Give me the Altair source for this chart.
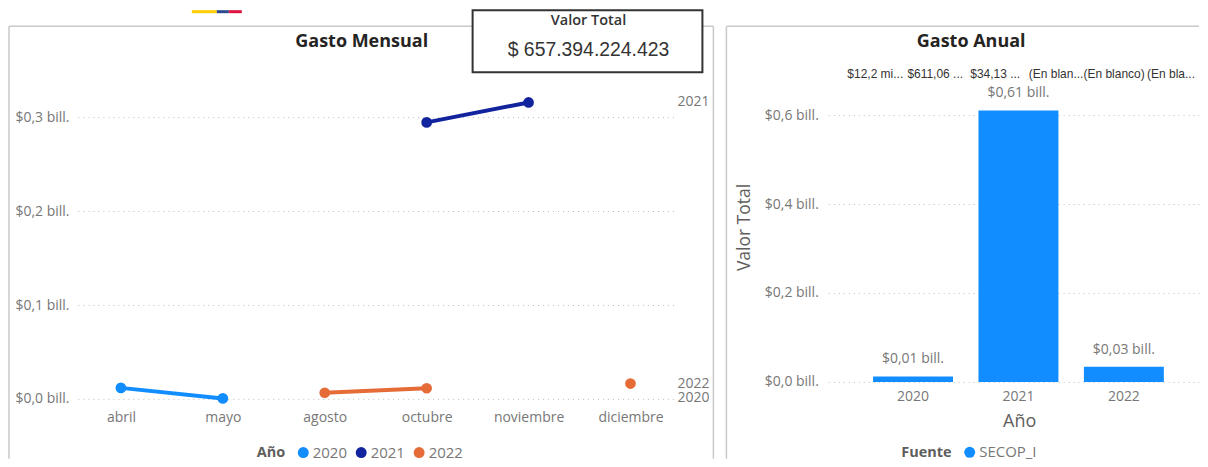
import altair as alt
import pandas as pd

FONT = "Open Sans"
GREY = "#777777"
BORDER = "#c9c9c9"

# ---- data ----
months = ["abril", "mayo", "agosto", "octubre", "noviembre", "diciembre"]
years = ["2020", "2021", "2022"]
colors = ["#118DFF", "#12239E", "#E66C37"]

line_month = ["abril", "mayo", "octubre", "noviembre", "agosto", "octubre", "diciembre"]
line_year = ["2020", "2020", "2021", "2021", "2022", "2022", "2022"]
line_seg = ["a", "a", "b", "b", "c", "c", "d"]
line_value = [0.0117, 0.0005, 0.2947, 0.3160, 0.0065, 0.0113, 0.0163]

end_year = ["2020", "2021", "2022"]
end_value = [0.0005, 0.3160, 0.0163]

bar_year = ["2020", "2021", "2022"]
bar_value = [0.0122, 0.6106, 0.0341]
bar_label = ["$0,01 bill.", "$0,61 bill.", "$0,03 bill."]
bar_source = ["SECOP_I", "SECOP_I", "SECOP_I"]

strip_labels = ["$12,2 mi...", "$611,06 ...", "$34,13 ...", "(En blan...", "(En blanco)", "(En bla..."]

card_title = "Valor Total"
card_value = "$ 657.394.224.423"

LABEL_EXPR = "'$' + replace(format(datum.value, '.1f'), '.', ',') + ' bill.'"
one = pd.DataFrame({"k": [0]})


def rule(x, x2, y, y2=None, color=BORDER, width=1.5):
    enc = dict(x=alt.value(x), x2=alt.value(x2), y=alt.value(y))
    if y2 is not None:
        enc["y2"] = alt.value(y2)
    return alt.Chart(one).mark_rule(color=color, strokeWidth=width).encode(**enc)


def box(x, x2, y, y2, fill, stroke=None, width=0):
    kw = dict(fill=fill)
    if stroke:
        kw.update(stroke=stroke, strokeWidth=width)
    return alt.Chart(one).mark_rect(**kw).encode(
        x=alt.value(x), x2=alt.value(x2), y=alt.value(y), y2=alt.value(y2))


def label(text, x, y, size, color="#252423", weight="normal", font=FONT):
    return alt.Chart(one).mark_text(
        fontSize=size, color=color, fontWeight=weight, font=font, align="center", baseline="middle"
    ).encode(x=alt.value(x), y=alt.value(y), text=alt.value(text))


def legend(title, x, y):
    return alt.Legend(orient="none", legendX=x, legendY=y, direction="horizontal",
                      title=title, titleOrient="left", titleFontSize=14.5, titleFont=FONT,
                      titleFontWeight="bold", titleColor="#605E5C", titlePadding=10, labelFontSize=15,
                      labelFont=FONT, labelColor=GREY, symbolType="circle", symbolSize=120,
                      symbolStrokeWidth=0, symbolOpacity=1, columnPadding=6, labelOffset=2)


# ---- left panel ----
df_line = pd.DataFrame({"mes": line_month, "anio": line_year, "seg": line_seg, "valor": line_value})
df_end = pd.DataFrame({"anio": end_year, "valor": end_value})

x_month = alt.X("mes:N", sort=months, title=None,
                scale=alt.Scale(type="point", domain=months, padding=0.4216),
                axis=alt.Axis(domain=False, ticks=False, grid=False, labelAngle=0, labelPadding=12,
                              labelFontSize=14, labelColor=GREY, labelFont=FONT))
y_scale = alt.Scale(domain=[0, 0.36], nice=False, zero=False)
y_month = alt.Y("valor:Q", title=None, scale=y_scale,
                axis=alt.Axis(values=[0, 0.1, 0.2, 0.3], domain=False, ticks=False, labelPadding=9,
                              labelExpr=LABEL_EXPR, labelFontSize=14, labelColor=GREY, labelFont=FONT,
                              gridDash=[1, 4], gridColor="#bdbdbd", gridOpacity=1))
color_year = alt.Color("anio:N", scale=alt.Scale(domain=years, range=colors),
                       legend=legend("Año", 179, 384))

lines = alt.Chart(df_line).mark_line(strokeWidth=4).encode(
    x=x_month, y=y_month, detail="seg:N", color=color_year)
points = alt.Chart(df_line).mark_circle(size=115, opacity=1).encode(
    x=x_month, y=y_month, color=color_year)
ends = alt.Chart(df_end).mark_text(fontSize=14, color=GREY, font=FONT, align="left", baseline="middle").encode(
    x=alt.value(600), y=alt.Y("valor:Q", scale=y_scale), text="anio:N")

left = alt.layer(
    lines, points, ends,
    rule(-69, 636, -35),
    rule(-69, -69, -35, 398),
    rule(636, 636, -35, 398),
    label("Gasto Mensual", 284, -19, 18, weight="bold"),
    box(114, 139, -51, -48, "#FFCD00"),
    box(139, 151, -51, -48, "#2B4A8F"),
    box(151, 164, -51, -48, "#E0123F"),
    box(395, 625, -51, 11, "white", "#333333", 2),
    label(card_title, 511, -40, 14.5, color="#333333", weight=600),
    label(card_value, 511, -11, 19.4, color="#333333", font="Liberation Sans"),
).properties(width=596, height=338)

# ---- right panel ----
df_bar = pd.DataFrame({"anio": bar_year, "valor": bar_value, "txt": bar_label, "fuente": bar_source})

x_year = alt.X("anio:N", title="Año",
               scale=alt.Scale(type="band", domain=bar_year, paddingInner=0.2417, paddingOuter=0.379, align=0.56),
               axis=alt.Axis(domain=False, ticks=False, grid=False, labelAngle=0, labelPadding=8,
                             labelFontSize=14, labelColor=GREY, labelFont=FONT, titleFont=FONT,
                             titleFontSize=18, titleFontWeight="normal", titleColor="#605E5C",
                             titlePadding=9, titleX=191))
y_year = alt.Y("valor:Q", title="Valor Total",
               scale=alt.Scale(domain=[0, 0.72135], nice=False, zero=True),
               axis=alt.Axis(values=[0, 0.2, 0.4, 0.6], domain=False, ticks=False, labelPadding=10,
                             labelExpr=LABEL_EXPR, labelFontSize=14, labelColor=GREY, labelFont=FONT,
                             gridDash=[1, 4], gridColor="#bdbdbd", gridOpacity=1, titleFont=FONT,
                             titleFontSize=17.5, titleFontWeight="normal", titleColor="#605E5C",
                             titlePadding=11, titleY=166))

bars = alt.Chart(df_bar).mark_bar().encode(
    x=x_year, y=y_year,
    color=alt.Color("fuente:N", scale=alt.Scale(range=["#118DFF"]), legend=legend("Fuente", 73, 384)))
bar_text = alt.Chart(df_bar).mark_text(dy=-17, fontSize=14, color=GREY, font=FONT, baseline="middle").encode(
    x=x_year, y=y_year, text="txt:N")

strip_x = [47, 107, 167, 228, 286, 343]
strips = [label(t, px, 13, 12, color="#333333", font="Liberation Sans") for t, px in zip(strip_labels, strip_x)]

right = alt.layer(
    bars, bar_text, *strips,
    rule(-102, 371, -35),
    rule(-102, -102, -35, 398),
    label("Gasto Anual", 143, -19, 18, weight="bold"),
).properties(width=371, height=321)

chart = alt.hconcat(left, right, spacing=155, bounds="flush").properties(
    padding={"left": 0, "top": 1, "right": 0, "bottom": 0}
).resolve_scale(color="independent").resolve_legend(color="independent"
).configure_view(stroke=None).configure_concat(spacing=155)

chart.save("out.html", embed_options={"renderer": "svg", "actions": False})
